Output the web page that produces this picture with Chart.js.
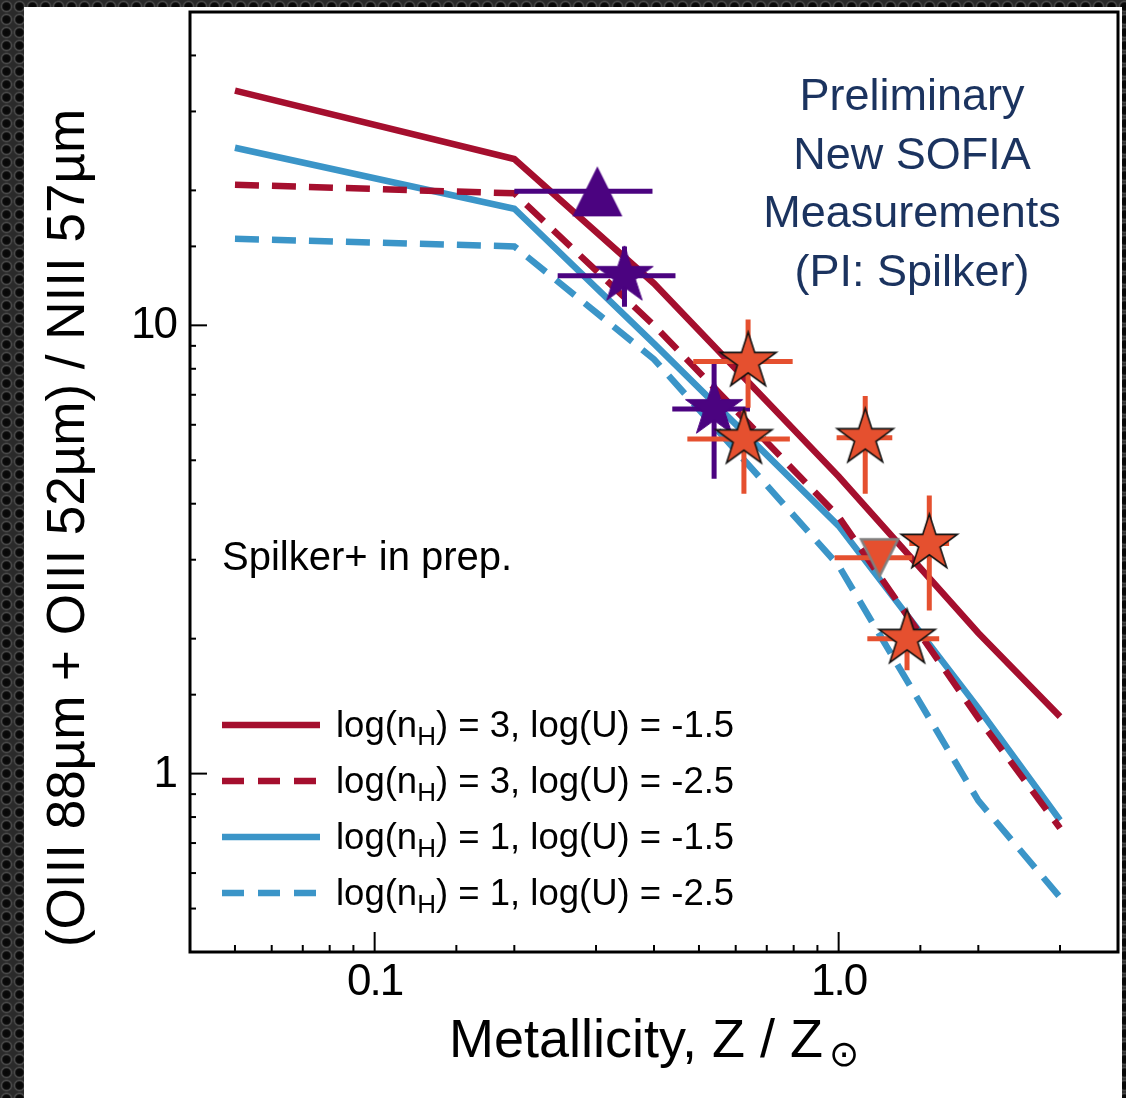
<!DOCTYPE html>
<html>
<head>
<meta charset="utf-8">
<script src="https://cdn.jsdelivr.net/npm/chart.js@4.4.0/dist/chart.umd.min.js"></script>
<style>
  html, body { margin: 0; padding: 0; width: 1126px; height: 1098px; overflow: hidden; }
  body {
    background-color: #202020;
    background-image: radial-gradient(circle at center, #060606 0, #0b0b0b 3.5px, #4a4a4a 5px, #2a2a2a 6.5px);
    background-size: 13px 13px;
  }
  #panel { position: absolute; left: 24px; top: 7px; width: 1098px; height: 1091px; background: #ffffff; }
  #c { position: absolute; left: 0; top: 0; }
</style>
</head>
<body>
<div id="panel"></div>
<canvas id="c" width="1126" height="1098"></canvas>
<script>
// ---- model grids: [OIII]88+52 / [NIII]57 line ratio versus metallicity ----
const modelZ     = [0.05, 0.2, 0.4, 1.0, 2.0, 3.0];
const ratioN3U15 = [33.4, 23.5, 12.4, 4.6, 2.06, 1.34];
const ratioN3U25 = [20.6, 19.7, 10.0, 3.74, 1.33, 0.756];
const ratioN1U15 = [24.9, 18.2, 9.1, 3.57, 1.40, 0.787];
const ratioN1U25 = [15.6, 15.0, 8.4, 2.91, 0.87, 0.53];

// ---- literature measurements (purple) ----
const litZ    = [0.3455, 0.539];
const litR    = [12.9, 6.51];
const litZlo  = [0.248, 0.438];
const litZhi  = [0.445, 0.644];
const litRlo  = [11.0, 4.55];
const litRhi  = [15.0, 8.41];

// lower limit (purple triangle)
const limZ   = [0.302];
const limR   = [19.9];
const limZlo = [0.2];
const limZhi = [0.397];

// ---- new SOFIA measurements (orange stars) ----
const sofiaZ   = [0.638, 0.625, 1.141, 1.568, 1.404];
const sofiaR   = [8.30, 5.58, 5.61, 3.26, 2.00];
const sofiaZlo = [0.486, 0.472, 0.99, 1.42, 1.153];
const sofiaZhi = [0.796, 0.785, 1.305, 1.73, 1.647];
const sofiaRlo = [6.55, 4.21, 4.21, 2.31, 1.70];
const sofiaRhi = [10.3, 6.45, 6.96, 4.17, 2.19];

// upper limit (orange down triangle)
const sofiaLimZ   = [1.225];
const sofiaLimR   = [3.03];
const sofiaLimZlo = [0.98];
const sofiaLimZhi = [1.44];

// ---- text ----
const xTickValues = [0.1, 1.0];
const xTickLabels = ['0.1', '1.0'];
const yTickValues = [1, 10];
const yTickLabels = ['1', '10'];
const xTitle = 'Metallicity, Z / Z';
const xTitleSub = '\u2299';
const yTitle = '(OIII 88\u00b5m + OIII 52\u00b5m) / NIII 57\u00b5m';
const noteLines = ['Preliminary', 'New SOFIA', 'Measurements', '(PI: Spilker)'];
const creditText = 'Spilker+ in prep.';
const legendNH = ['3', '3', '1', '1'];
const legendU  = ['-1.5', '-2.5', '-1.5', '-2.5'];

const RED = '#a50f2e';
const BLUE = '#3b95c8';
const PURPLE = '#4b0380';
const ORANGE = '#e5502f';
const NAVY = '#1b335f';
const FONT = '"Liberation Sans", Arial, Helvetica, sans-serif';

const pts = (xs, ys) => xs.map((v, i) => ({ x: v, y: ys[i] }));

// 5-pointed star marker
function starMarker(R, fill, stroke, lw) {
  const s = Math.ceil(2 * (R + lw + 2));
  const c = document.createElement('canvas');
  c.width = s; c.height = s;
  const g = c.getContext('2d');
  const cx = s / 2, cy = s / 2, r = R * 0.382;
  g.beginPath();
  for (let i = 0; i < 10; i++) {
    const a = -Math.PI / 2 + i * Math.PI / 5;
    const rr = i % 2 ? r : R;
    const px = cx + rr * Math.cos(a), py = cy + rr * Math.sin(a);
    i ? g.lineTo(px, py) : g.moveTo(px, py);
  }
  g.closePath();
  g.fillStyle = fill; g.fill();
  if (stroke) { g.lineWidth = lw; g.strokeStyle = stroke; g.lineJoin = 'miter'; g.stroke(); }
  return c;
}
// triangle marker, bounding box centred on the point
function triMarker(a, down, fill, stroke, lw) {
  const s = Math.ceil(2 * (a + lw + 2));
  const c = document.createElement('canvas');
  c.width = s; c.height = s;
  const g = c.getContext('2d');
  const cx = s / 2, cy = s / 2, k = down ? -1 : 1;
  g.beginPath();
  g.moveTo(cx, cy - k * a);
  g.lineTo(cx - a, cy + k * a);
  g.lineTo(cx + a, cy + k * a);
  g.closePath();
  g.fillStyle = fill; g.fill();
  if (stroke) { g.lineWidth = lw; g.strokeStyle = stroke; g.lineJoin = 'miter'; g.stroke(); }
  return c;
}

const modelLine = (label, ys, color, dash) => ({
  label, type: 'scatter', showLine: true, data: pts(modelZ, ys),
  borderColor: color, backgroundColor: color, borderWidth: 6.5, borderDash: dash,
  pointRadius: 0, tension: 0, order: 10, isModel: true
});

const datasets = [
  modelLine('n3u15', ratioN3U15, RED, []),
  modelLine('n3u25', ratioN3U25, RED, [24, 13]),
  modelLine('n1u15', ratioN1U15, BLUE, []),
  modelLine('n1u25', ratioN1U25, BLUE, [24, 13]),
  {
    label: 'lit-limit', data: pts(limZ, limR), order: 3,
    pointStyle: triMarker(25, false, PURPLE, null, 0), pointRadius: 25,
    errorBars: { color: PURPLE, width: 5, xlo: limZlo, xhi: limZhi }
  },
  {
    label: 'lit', data: pts(litZ, litR), order: 3,
    pointStyle: starMarker(30, PURPLE, PURPLE, 1), pointRadius: 30,
    errorBars: { color: PURPLE, width: 5, xlo: litZlo, xhi: litZhi, ylo: litRlo, yhi: litRhi }
  },
  {
    label: 'sofia-limit', data: pts(sofiaLimZ, sofiaLimR), order: 2,
    pointStyle: triMarker(18.5, true, ORANGE, '#808080', 2.5), pointRadius: 20,
    errorBars: { color: ORANGE, width: 5, xlo: sofiaLimZlo, xhi: sofiaLimZhi }
  },
  {
    label: 'sofia', data: pts(sofiaZ, sofiaR), order: 1,
    pointStyle: starMarker(29.5, ORANGE, '#111111', 1.6), pointRadius: 30,
    errorBars: { color: ORANGE, width: 5, xlo: sofiaZlo, xhi: sofiaZhi, ylo: sofiaRlo, yhi: sofiaRhi }
  }
];

const deco = {
  id: 'deco',
  beforeDatasetDraw(chart, args) {
    const ds = chart.data.datasets[args.index];
    if (!ds.errorBars) return;
    const { ctx, chartArea: a } = chart;
    const x = chart.scales.x, y = chart.scales.y, e = ds.errorBars;
    ctx.save();
    ctx.beginPath(); ctx.rect(a.left, a.top, a.width, a.height); ctx.clip();
    ctx.strokeStyle = e.color; ctx.lineWidth = e.width; ctx.lineCap = 'butt';
    ds.data.forEach((p, i) => {
      const px = x.getPixelForValue(p.x), py = y.getPixelForValue(p.y);
      ctx.beginPath();
      if (e.xlo) { ctx.moveTo(x.getPixelForValue(e.xlo[i]), py); ctx.lineTo(x.getPixelForValue(e.xhi[i]), py); }
      if (e.ylo) { ctx.moveTo(px, y.getPixelForValue(e.ylo[i])); ctx.lineTo(px, y.getPixelForValue(e.yhi[i])); }
      ctx.stroke();
    });
    ctx.restore();
  },
  afterDraw(chart) {
    const { ctx, chartArea: a } = chart;
    const x = chart.scales.x, y = chart.scales.y;
    const isMajor = v => Math.abs(Math.log10(v) - Math.round(Math.log10(v))) < 1e-6;
    ctx.save();

    // inward ticks from the scales' own tick lists
    ctx.strokeStyle = '#000'; ctx.lineWidth = 2;
    x.ticks.forEach(t => {
      const px = x.getPixelForValue(t.value);
      if (px <= a.left + 2 || px >= a.right - 2) return;
      const len = isMajor(t.value) ? 20 : 7;
      ctx.beginPath(); ctx.moveTo(px, a.bottom); ctx.lineTo(px, a.bottom - len); ctx.stroke();
    });
    y.ticks.forEach(t => {
      const py = y.getPixelForValue(t.value);
      if (py <= a.top + 2 || py >= a.bottom - 2) return;
      const len = isMajor(t.value) ? 17 : 6;
      ctx.beginPath(); ctx.moveTo(a.left, py); ctx.lineTo(a.left + len, py); ctx.stroke();
    });

    // frame
    ctx.lineWidth = 3;
    ctx.strokeRect(a.left, a.top, a.right - a.left, a.bottom - a.top);

    // tick labels
    ctx.fillStyle = '#000';
    ctx.font = '44px ' + FONT;
    if ('letterSpacing' in ctx) ctx.letterSpacing = '-2px';
    ctx.textAlign = 'center'; ctx.textBaseline = 'alphabetic';
    xTickValues.forEach((v, i) => ctx.fillText(xTickLabels[i], x.getPixelForValue(v), 995));
    ctx.textAlign = 'right'; ctx.textBaseline = 'middle';
    yTickValues.forEach((v, i) => ctx.fillText(yTickLabels[i], 176, y.getPixelForValue(v) + 1));
    if ('letterSpacing' in ctx) ctx.letterSpacing = '0px';

    // x title with sun symbol
    ctx.textBaseline = 'alphabetic'; ctx.textAlign = 'left';
    ctx.font = '54px ' + FONT;
    const w1 = ctx.measureText(xTitle).width;
    ctx.font = '36px "DejaVu Sans", ' + FONT;
    const w2 = ctx.measureText(xTitleSub).width;
    const x0 = (a.left + a.right) / 2 - (w1 + 6 + w2) / 2;
    ctx.font = '54px ' + FONT;
    ctx.fillText(xTitle, x0, 1057);
    ctx.font = '36px "DejaVu Sans", ' + FONT;
    ctx.fillText(xTitleSub, x0 + w1 + 6, 1066);

    // y title
    ctx.save();
    ctx.translate(84, 528);
    ctx.rotate(-Math.PI / 2);
    ctx.font = '53px ' + FONT;
    ctx.textAlign = 'center';
    ctx.fillText(yTitle, 0, 0);
    ctx.restore();

    // note
    ctx.fillStyle = NAVY;
    ctx.font = '45px ' + FONT;
    ctx.textAlign = 'center';
    noteLines.forEach((s, i) => ctx.fillText(s, 912, 110 + i * 58.5));

    // credit
    ctx.fillStyle = '#000';
    ctx.textAlign = 'left';
    ctx.font = '40px ' + FONT;
    ctx.fillText(creditText, 222, 570);

    // legend
    const models = chart.data.datasets.filter(d => d.isModel);
    models.forEach((d, i) => {
      const ry = 725 + i * 56;
      ctx.strokeStyle = d.borderColor; ctx.lineWidth = d.borderWidth;
      ctx.setLineDash(d.borderDash.length ? [22, 14] : []);
      ctx.lineCap = 'butt';
      ctx.beginPath(); ctx.moveTo(222, ry); ctx.lineTo(320, ry); ctx.stroke();
      ctx.setLineDash([]);
      ctx.fillStyle = '#000';
      let tx = 336;
      const base = ry + 12;
      ctx.font = '36.5px ' + FONT;
      ctx.fillText('log(n', tx, base); tx += ctx.measureText('log(n').width;
      ctx.font = '26px ' + FONT;
      ctx.fillText('H', tx, base + 8); tx += ctx.measureText('H').width;
      ctx.font = '36.5px ' + FONT;
      ctx.fillText(') = ' + legendNH[i] + ', log(U) = ' + legendU[i], tx, base);
    });
    ctx.restore();
  }
};

new Chart(document.getElementById('c'), {
  type: 'scatter',
  data: { datasets },
  options: {
    responsive: false,
    animation: false,
    devicePixelRatio: 1,
    events: [],
    layout: { autoPadding: false, padding: { left: 0, right: 8, top: 12, bottom: 0 } },
    plugins: { legend: { display: false }, tooltip: { enabled: false } },
    scales: {
      x: {
        type: 'logarithmic', min: 0.04, max: 4,
        grid: { display: false }, border: { display: false },
        ticks: { display: false },
        afterFit(s) { s.height = 146; }
      },
      y: {
        type: 'logarithmic', min: 0.4, max: 50,
        grid: { display: false }, border: { display: false },
        ticks: { display: false },
        afterFit(s) { s.width = 190; }
      }
    }
  },
  plugins: [deco]
});
</script>
</body>
</html>
